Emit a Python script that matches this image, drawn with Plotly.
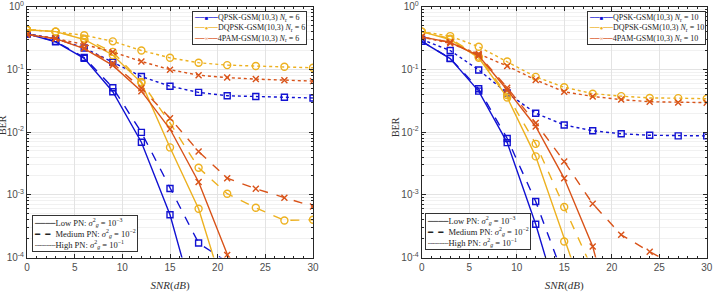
import plotly.graph_objects as go

# ---------------- data ----------------
snr = [0, 3, 6, 9, 12, 15, 18, 21, 24, 27, 30]

# Nr = 6 (left)
qpsk6_low = [0.37, 0.275, 0.15, 0.044, 0.0069, 4.8e-4, 1.1e-5]
qpsk6_med = [0.37, 0.28, 0.155, 0.051, 0.0099, 1.26e-3, 1.7e-4, 8.5e-5, 1e-5]
qpsk6_high = [0.37, 0.31, 0.22, 0.13, 0.077, 0.054, 0.043, 0.038, 0.037, 0.036, 0.035]
dq6_low = [0.43, 0.40, 0.30, 0.17, 0.061, 0.0057, 6e-4, 2e-5]
dq6_med = [0.43, 0.40, 0.31, 0.19, 0.063, 0.0140, 0.0027, 1.04e-3, 6.2e-4, 3.9e-4, 4.0e-4]
dq6_high = [0.43, 0.40, 0.35, 0.28, 0.20, 0.153, 0.128, 0.117, 0.113, 0.110, 0.106]
pam6_low = [0.36, 0.31, 0.215, 0.116, 0.045, 0.0112, 1.6e-3, 1.1e-4, 8e-6]
pam6_med = [0.36, 0.31, 0.22, 0.125, 0.050, 0.0167, 4.9e-3, 1.84e-3, 1.25e-3, 8.95e-4, 6.5e-4]
pam6_high = [0.36, 0.31, 0.25, 0.19, 0.134, 0.099, 0.081, 0.074, 0.070, 0.067, 0.065]

# Nr = 10 (right)
qpsk10_low = [0.28, 0.149, 0.045, 0.0068, 3.4e-4, 1e-5]
qpsk10_med = [0.28, 0.15, 0.049, 0.0079, 7.8e-4, 4.7e-5]
qpsk10_high = [0.30, 0.20, 0.098, 0.042, 0.020, 0.013, 0.0105, 0.0094, 0.0089, 0.0087, 0.0087]
dq10_low = [0.40, 0.30, 0.153, 0.0357, 4.1e-3, 1.8e-4, 1e-5]
dq10_med = [0.40, 0.31, 0.16, 0.039, 6.5e-3, 6.4e-4, 6.3e-5]
dq10_high = [0.40, 0.34, 0.23, 0.134, 0.076, 0.052, 0.041, 0.0375, 0.035, 0.0348, 0.034]
pam10_low = [0.33, 0.27, 0.165, 0.047, 0.0123, 1.83e-3, 1.5e-4, 3e-6]
pam10_med = [0.33, 0.27, 0.17, 0.051, 0.014, 3.4e-3, 7.2e-4, 2.3e-4, 1.24e-4, 7e-5]
pam10_high = [0.33, 0.26, 0.177, 0.113, 0.068, 0.044, 0.037, 0.033, 0.0305, 0.0297, 0.0295]

x_ticks = [0, 5, 10, 15, 20, 25, 30]
y_ticks = [1e-4, 1e-3, 1e-2, 1e-1, 1]
y_ticktext = ["10<sup>-4</sup>", "10<sup>-3</sup>", "10<sup>-2</sup>", "10<sup>-1</sup>", "10<sup>0</sup>"]

series_names = ["QPSK-GSM(10,3)", "DQPSK-GSM(10,3)", "4PAM-GSM(10,3)"]
pn_labels = [
    "Low PN: <i>σ</i><sup>2</sup><sub><i>g</i></sub> = 10<sup>−3</sup>",
    "Medium PN: <i>σ</i><sup>2</sup><sub><i>g</i></sub> = 10<sup>−2</sup>",
    "High PN: <i>σ</i><sup>2</sup><sub><i>g</i></sub> = 10<sup>−1</sup>",
]

# ---------------- style ----------------
BLUE = "#1212d2"
YEL = "#EDB120"
RED = "#D95319"
SERIF = "Liberation Serif"
SANS = "Liberation Sans"

series_style = {
    "qpsk": dict(color=BLUE, symbol="square-open", size=6, glyph="■"),
    "dq": dict(color=YEL, symbol="circle-open", size=7, glyph="●"),
    "pam": dict(color=RED, symbol="x-thin-open", size=6, glyph="×"),
}
dashes = {"low": "solid", "med": "dash", "high": "dot"}

fig = go.Figure()


def add_panel(data, xa, ya):
    for key, levels in data.items():
        st = series_style[key]
        for lvl, vals in levels.items():
            fig.add_trace(go.Scatter(
                x=snr[:len(vals)], y=vals, mode="lines+markers",
                xaxis=xa, yaxis=ya,
                line=dict(color=st["color"], width=1.4, dash=dashes[lvl]),
                marker=dict(symbol=st["symbol"], size=st["size"],
                            color=st["color"], line=dict(color=st["color"], width=1.4)),
                showlegend=False,
            ))


add_panel({"qpsk": {"low": qpsk6_low, "med": qpsk6_med, "high": qpsk6_high},
           "dq": {"low": dq6_low, "med": dq6_med, "high": dq6_high},
           "pam": {"low": pam6_low, "med": pam6_med, "high": pam6_high}}, "x", "y")
add_panel({"qpsk": {"low": qpsk10_low, "med": qpsk10_med, "high": qpsk10_high},
           "dq": {"low": dq10_low, "med": dq10_med, "high": dq10_high},
           "pam": {"low": pam10_low, "med": pam10_med, "high": pam10_high}}, "x2", "y2")

W, H = 714, 296
minor_y = [m * 10 ** e for e in range(-4, 0) for m in range(2, 10)]


def xaxis(dom):
    return dict(
        domain=dom, range=[0, 30], tickvals=x_ticks, showgrid=True,
        gridcolor="#e3e3e3", gridwidth=1, zeroline=False,
        showline=True, linecolor="#262626", linewidth=1, mirror="allticks",
        ticks="inside", ticklen=4, tickcolor="#262626",
        minor=dict(dtick=1, ticks="inside", ticklen=2, tickcolor="#262626", showgrid=False),
        tickfont=dict(family=SANS, size=10, color="#4d4d4d"),
        title=dict(text="<i>SNR</i>(<i>dB</i>)", font=dict(family=SERIF, size=11, color="#333333"),
                   standoff=9),
        automargin=False,
    )


def yaxis(anchor):
    return dict(
        type="log", range=[-4, 0], domain=[(H - 257.5) / H, (H - 6.7) / H],
        anchor=anchor, tickvals=y_ticks, ticktext=y_ticktext,
        showgrid=True, gridcolor="#e3e3e3", gridwidth=1, zeroline=False,
        showline=True, linecolor="#262626", linewidth=1, mirror="allticks",
        ticks="inside", ticklen=4, tickcolor="#262626",
        minor=dict(tickvals=minor_y, ticks="inside", ticklen=2, tickcolor="#262626",
                   showgrid=True, gridcolor="#f1f1f1", gridwidth=1),
        tickfont=dict(family=SANS, size=10, color="#4d4d4d"),
        automargin=False,
    )


MONO = "font-family:'DejaVu Sans Mono'"


def series_legend(nr):
    rows = []
    for key, nm in zip(["qpsk", "dq", "pam"], series_names):
        st = series_style[key]
        sample = (f'<span style="color:{st["color"]};{MONO}">──</span>'
                  f'<span style="color:{st["color"]};font-size:6px">{st["glyph"]}</span>'
                  f'<span style="color:{st["color"]};{MONO}">──</span>')
        rows.append(f'{sample}{nm} <i>N</i><sub>r</sub> = {nr}')
    return "<br>".join(rows)


def pn_legend():
    samples = ["────", "━ ━ ", "┈┈┈┈"]
    rows = []
    for s, lbl in zip(samples, pn_labels):
        rows.append(f'<span style="color:#222222;{MONO}">{s}</span>{lbl}')
    return "<br>".join(rows)


box = dict(xref="paper", yref="paper", showarrow=False, align="left",
           bgcolor="white", bordercolor="#333333", borderwidth=1, borderpad=1)

fig.update_layout(
    width=W, height=H, margin=dict(l=0, r=0, t=0, b=0),
    paper_bgcolor="white", plot_bgcolor="white",
    xaxis=dict(**xaxis([27 / W, 313 / W]), anchor="y"),
    yaxis=yaxis("x"),
    xaxis2=dict(**xaxis([421.7 / W, 706.7 / W]), anchor="y2"),
    yaxis2=yaxis("x2"),
    showlegend=False,
    annotations=[
        dict(text="BER", textangle=-90, x=3 / W, y=(H - 125) / H, xref="paper", yref="paper",
             showarrow=False, font=dict(family=SERIF, size=10, color="#333333"), xanchor="center"),
        dict(text="BER", textangle=-90, x=395 / W, y=(H - 127) / H, xref="paper", yref="paper",
             showarrow=False, font=dict(family=SERIF, size=10, color="#333333"), xanchor="center"),
        dict(**box, text=series_legend(6), x=307 / W, y=(H - 11) / H, xanchor="right", yanchor="top",
             font=dict(family=SERIF, size=8, color="#222222")),
        dict(**box, text=series_legend(10), x=706 / W, y=(H - 11) / H, xanchor="right", yanchor="top",
             font=dict(family=SERIF, size=8, color="#222222")),
        dict(**box, text=pn_legend(), x=32 / W, y=(H - 252) / H, xanchor="left", yanchor="bottom",
             font=dict(family=SERIF, size=8.5, color="#222222")),
        dict(**box, text=pn_legend(), x=425 / W, y=(H - 250) / H, xanchor="left", yanchor="bottom",
             font=dict(family=SERIF, size=8.5, color="#222222")),
    ],
)

fig.write_html("out.html")
